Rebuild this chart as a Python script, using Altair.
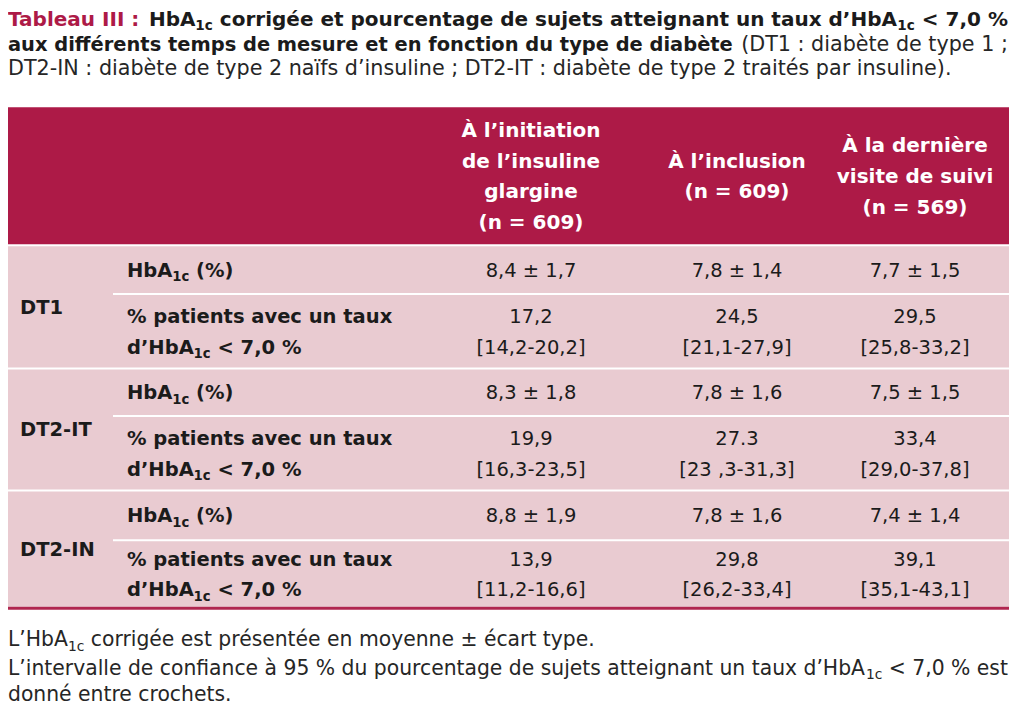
import altair as alt
import pandas as pd

# ------------------------------------------------------------------ content
TITLE_LINES = [
    [("Tableau III :", "a"), (" HbA", "b"), ("1c", "bs"),
     (" corrigée et pourcentage de sujets atteignant un taux d’HbA", "b"),
     ("1c", "bs"), (" < 7,0 %", "b")],
    [("aux différents temps de mesure et en fonction du type de diabète", "b"),
     (" (DT1 : diabète de type 1 ;", "r")],
    [("DT2-IN : diabète de type 2 naïfs d’insuline ; DT2-IT : diabète de type 2 traités par insuline).", "r")],
]
COLUMN_HEADERS = [
    ["À l’initiation", "de l’insuline", "glargine", "(n = 609)"],
    ["À l’inclusion", "(n = 609)"],
    ["À la dernière", "visite de suivi", "(n = 569)"],
]
GROUPS = ["DT1", "DT2-IT", "DT2-IN"]
LABEL_HBA = [("HbA", "b"), ("1c", "bs"), (" (%)", "b")]
LABEL_PCT = [
    [("% patients avec un taux", "b")],
    [("d’HbA", "b"), ("1c", "bs"), (" < 7,0 %", "b")],
]
HBA_MEAN = [[8.4, 7.8, 7.7], [8.3, 7.8, 7.5], [8.8, 7.8, 7.4]]
HBA_SD = [[1.7, 1.4, 1.5], [1.8, 1.6, 1.5], [1.9, 1.6, 1.4]]
PCT = [["17,2", "24,5", "29,5"], ["19,9", "27.3", "33,4"], ["13,9", "29,8", "39,1"]]
CI = [["[14,2-20,2]", "[21,1-27,9]", "[25,8-33,2]"],
      ["[16,3-23,5]", "[23 ,3-31,3]", "[29,0-37,8]"],
      ["[11,2-16,6]", "[26,2-33,4]", "[35,1-43,1]"]]
FOOTNOTES = [
    [("L’HbA", "r"), ("1c", "rs"), (" corrigée est présentée en moyenne ± écart type.", "r")],
    [("L’intervalle de confiance à 95 % du pourcentage de sujets atteignant un taux d’HbA", "r"),
     ("1c", "rs"), (" < 7,0 % est", "r")],
    [("donné entre crochets.", "r")],
]

# ------------------------------------------------------------------ layout / style
FONT = "DejaVu Sans"
W, H = 1001, 697
X0, X1 = 8, 1009          # reference pixels shown by the plot area
Y0, Y1 = 4, 706
KX = W / (X1 - X0)
KY = H / (Y1 - Y0)

ACCENT = "#ad1a47"
HEADER_FILL = "#ad1a47"
PINK = "#e9cbd1"
WHITE = "#ffffff"
INK = "#1b1b1b"
INK_REG = "#262626"
RULE = "#b0264f"

TABLE_L, TABLE_R = 8, 1009
SUB_L = 113
GROUP_X, LABEL_X = 20, 127
COL_X = [531, 737, 915]
TITLE_X = 8
TITLE_R = [1008, 1008, 952]
TITLE_Y = [15, 40, 64]
HEAD_TOP, HEAD_BOT = 104, 242
LINE_H = 31
HBA_H = [47, 46, 48]
PCT_H = [73, 73, 66]
GAP = 2
FOOT_X, FOOT_R = 8, 1008
FOOT_Y = [639, 668, 695]

HEAD_SIZE = 20
BODY_SIZE = 19.5
SUB_SCALE = 0.68
SUB_DY = 0.24
TITLE_SUB_DY = 0.18
BASE_K = 0.36

REG_W, BOLD_W = {}, {}
for chars, w in [(" ", 651), ("%", 1946), ("()[]", 799), (",.", 651), ("-", 739), (":;", 690),
                 ("<±=", 1716), ("’", 651), ("0123456789", 1303), ("AÀ", 1401), ("D", 1577),
                 ("H", 1540), ("I", 604), ("L", 1141), ("N", 1532), ("T", 1251), ("aà", 1255),
                 ("bdgpq", 1300), ("c", 1126), ("eéè", 1260), ("f", 721), ("hnu", 1298),
                 ("iïjl", 569), ("k", 1186), ("m", 1995), ("o", 1253), ("r", 842), ("s", 1067),
                 ("t", 803), ("vxy", 1212), ("w", 1675), ("z", 1075)]:
    for ch in chars:
        REG_W[ch] = w
for chars, w in [(" ", 713), ("%", 2052), ("()[]", 936), (",.", 778), ("-", 850), (":;", 819),
                 ("<±=", 1716), ("’", 778), ("0123456789", 1425), ("AÀ", 1585), ("DHN", 1700),
                 ("I", 762), ("T", 1399), ("a", 1382), ("bdgpq", 1466), ("c", 1214),
                 ("eéè", 1389), ("f", 891), ("hnu", 1458), ("ijl", 702), ("m", 2134),
                 ("o", 1407), ("r", 1010), ("s", 1219), ("t", 979), ("vy", 1331), ("x", 1327)]:
    for ch in chars:
        BOLD_W[ch] = w


def em(text, bold):
    tbl = BOLD_W if bold else REG_W
    return sum(tbl.get(ch, 1350) for ch in text) / 2048


def seg_em(segs, want_bold):
    return sum(em(t, st[0] in "ab") * (SUB_SCALE if st.endswith("s") else 1)
               for t, st in segs if (st[0] in "ab") == want_bold)


# title font sizes derived from the line extents of the reference
TITLE_REG = (TITLE_R[2] - TITLE_X) * KX / seg_em(TITLE_LINES[2], False)
TITLE_BOLD = [
    (TITLE_R[0] - TITLE_X) * KX / seg_em(TITLE_LINES[0], True),
    ((TITLE_R[1] - TITLE_X) * KX - seg_em(TITLE_LINES[1], False) * TITLE_REG)
    / seg_em(TITLE_LINES[1], True),
]
TITLE_BOLD.append(TITLE_BOLD[1])
FOOT_SIZE = (FOOT_R - FOOT_X) * KX / seg_em(FOOTNOTES[1], False)

texts = []


def put(x, yc, text, size, bold, color, align):
    texts.append(dict(x=x, y=yc + BASE_K * size / KY, text=text, size=size,
                      wt="bold" if bold else "normal", color=color, al=align))


def put_rich(x, yc, segs, bsize, rsize=None, sub_dy=SUB_DY):
    rsize = bsize if rsize is None else rsize
    base = yc + BASE_K * bsize / KY
    for t, st in segs:
        bold = st[0] in "ab"
        sub = st.endswith("s")
        size = bsize if bold else rsize
        fs = size * SUB_SCALE if sub else size
        color = ACCENT if st[0] == "a" else (INK if bold else INK_REG)
        lead = len(t) - len(t.lstrip(" "))
        trail = len(t) - len(t.rstrip(" "))
        sp = em(" ", bold) * fs / KX
        x += lead * sp
        core = t.strip(" ")
        y = base + (sub_dy * size / KY if sub else 0)
        texts.append(dict(x=x, y=y, text=core, size=fs, wt="bold" if bold else "normal",
                          color=color, al="left"))
        x += em(core, bold) * fs / KX + trail * sp


def fr(v):
    return f"{v:.1f}".replace(".", ",")


rects = []


def rect(x, x2, y, y2, fill):
    rects.append(dict(x=x, x2=x2, y=y, y2=y2, fill=fill))


# title
for i, line in enumerate(TITLE_LINES):
    put_rich(TITLE_X, TITLE_Y[i], line, TITLE_BOLD[i], TITLE_REG, TITLE_SUB_DY)

# header
rect(TABLE_L, TABLE_R, HEAD_TOP, HEAD_BOT, HEADER_FILL)
head_c = (HEAD_TOP + HEAD_BOT) / 2
for c, lines in enumerate(COLUMN_HEADERS):
    n = len(lines)
    for k, s in enumerate(lines):
        put(COL_X[c], head_c + (k - (n - 1) / 2) * LINE_H, s, HEAD_SIZE, True, WHITE, "center")

# body
y = HEAD_BOT + GAP
last_bot = y
for g, name in enumerate(GROUPS):
    top = y
    hba_bot = top + HBA_H[g]
    pct_top = hba_bot + GAP
    bot = pct_top + PCT_H[g]
    rect(TABLE_L, TABLE_R, top, bot, PINK)
    rect(SUB_L, TABLE_R, hba_bot, pct_top, WHITE)
    put(GROUP_X, (top + bot) / 2, name, BODY_SIZE, True, INK, "left")
    hba_c = (top + hba_bot) / 2
    pct_c = (pct_top + bot) / 2
    put_rich(LABEL_X, hba_c, LABEL_HBA, BODY_SIZE)
    put_rich(LABEL_X, pct_c - LINE_H / 2, LABEL_PCT[0], BODY_SIZE)
    put_rich(LABEL_X, pct_c + LINE_H / 2, LABEL_PCT[1], BODY_SIZE)
    for c in range(3):
        put(COL_X[c], hba_c, f"{fr(HBA_MEAN[g][c])} ± {fr(HBA_SD[g][c])}", BODY_SIZE, False, INK, "center")
        put(COL_X[c], pct_c - LINE_H / 2, PCT[g][c], BODY_SIZE, False, INK, "center")
        put(COL_X[c], pct_c + LINE_H / 2, CI[g][c], BODY_SIZE, False, INK, "center")
    y = bot + GAP
    last_bot = bot
rect(TABLE_L, TABLE_R, last_bot, last_bot + 3, RULE)

# footnotes
for i, line in enumerate(FOOTNOTES):
    put_rich(FOOT_X, FOOT_Y[i], line, FOOT_SIZE)

# ------------------------------------------------------------------ chart
xs = alt.Scale(domain=[X0, X1], nice=False, zero=False)
ys = alt.Scale(domain=[Y0, Y1], nice=False, zero=False, reverse=True)

rect_df = pd.DataFrame(rects)
text_df = pd.DataFrame(texts)

layers = [
    alt.Chart(rect_df).mark_rect(strokeWidth=0).encode(
        x=alt.X("x:Q", scale=xs, axis=None),
        x2="x2:Q",
        y=alt.Y("y:Q", scale=ys, axis=None),
        y2="y2:Q",
        color=alt.Color("fill:N", scale=None),
    )
]
for weight in ["normal", "bold"]:
    for align in ["left", "center"]:
        sub = text_df[(text_df["wt"] == weight) & (text_df["al"] == align)]
        if len(sub) == 0:
            continue
        layers.append(
            alt.Chart(sub).mark_text(font=FONT, fontWeight=weight, align=align,
                                     baseline="alphabetic").encode(
                x=alt.X("x:Q", scale=xs, axis=None),
                y=alt.Y("y:Q", scale=ys, axis=None),
                text="text:N",
                size=alt.Size("size:Q", scale=None),
                color=alt.Color("color:N", scale=None),
            )
        )

chart = alt.layer(*layers).properties(
    width=W, height=H, autosize=alt.AutoSizeParams(type="none"), padding=0,
    background="white",
).configure_view(stroke=None)

chart.save("out.html", embed_options={"renderer": "svg", "actions": False})
